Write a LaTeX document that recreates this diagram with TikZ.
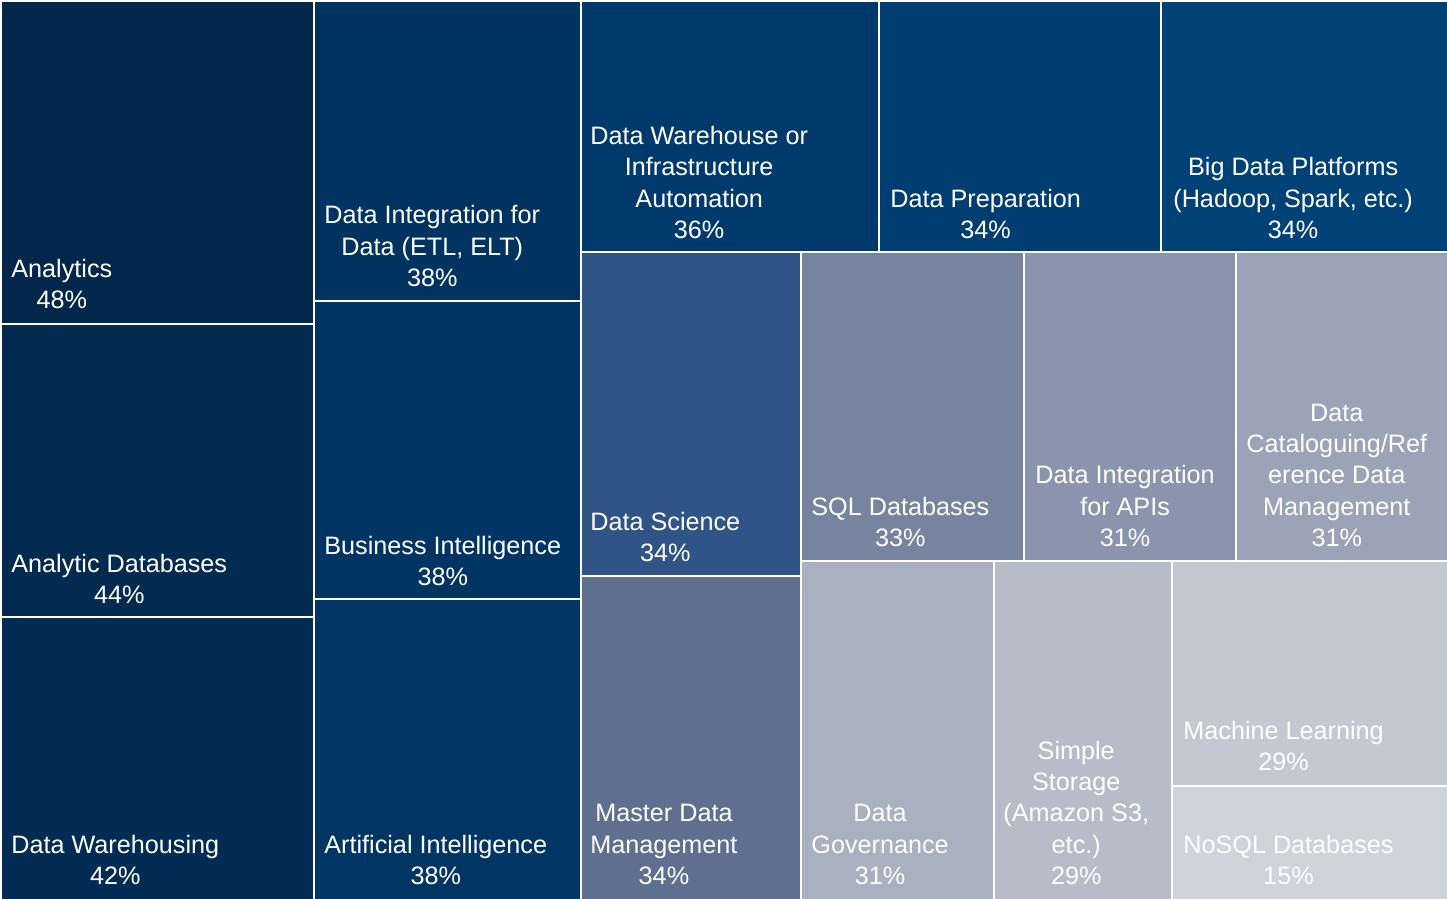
\documentclass[tikz,border=0pt]{standalone}
\usepackage{fontspec}
\setmainfont{Liberation Sans}

\definecolor{cAna}{HTML}{03274A}
\definecolor{cAnaDb}{HTML}{032A4F}
\definecolor{cDwh}{HTML}{022C54}
\definecolor{cDiEtl}{HTML}{00335F}
\definecolor{cBi}{HTML}{003462}
\definecolor{cAi}{HTML}{003564}
\definecolor{cDwia}{HTML}{003A6C}
\definecolor{cPrep}{HTML}{003D71}
\definecolor{cBig}{HTML}{004176}
\definecolor{cSci}{HTML}{305486}
\definecolor{cMdm}{HTML}{5E6F90}
\definecolor{cSql}{HTML}{77849F}
\definecolor{cDiApi}{HTML}{8A94AC}
\definecolor{cCat}{HTML}{9BA3B6}
\definecolor{cGov}{HTML}{A9B0C0}
\definecolor{cStor}{HTML}{B6BCC8}
\definecolor{cMl}{HTML}{C4C8D1}
\definecolor{cNosql}{HTML}{CFD3DA}

\begin{document}
\begin{tikzpicture}[x=0.5pt,y=-0.5pt,
  cellbox/.style={draw=white,line width=1pt},
  lbl/.style={anchor=south west,inner sep=0pt,align=center,text=white,
    font={\fontsize{12.6}{15.6}\selectfont}}]
\useasboundingbox[fill=white] (0,0) rectangle (1447,899);
\clip (0,0) rectangle (1447,899);

% first column
\path[cellbox,fill=cAna]   (1,1)   rectangle (314,324);
\path[cellbox,fill=cAnaDb] (1,324) rectangle (314,617);
\path[cellbox,fill=cDwh]   (1,617) rectangle (314,901);

% second column
\path[cellbox,fill=cDiEtl] (314,1)   rectangle (581,301);
\path[cellbox,fill=cBi]    (314,301) rectangle (581,599);
\path[cellbox,fill=cAi]    (314,599) rectangle (581,901);

% top row of the rest
\path[cellbox,fill=cDwia] (581,1)  rectangle (879,252);
\path[cellbox,fill=cPrep] (879,1)  rectangle (1161,252);
\path[cellbox,fill=cBig]  (1161,1) rectangle (1449,252);

% data science, master data
\path[cellbox,fill=cSci] (581,252) rectangle (801,576);
\path[cellbox,fill=cMdm] (581,576) rectangle (801,901);

% middle row
\path[cellbox,fill=cSql]   (801,252)    rectangle (1024,560.5);
\path[cellbox,fill=cDiApi] (1024,252)   rectangle (1235.5,560.5);
\path[cellbox,fill=cCat]   (1235.5,252) rectangle (1449,560.5);

% bottom row
\path[cellbox,fill=cGov]   (801,560.5)  rectangle (994,901);
\path[cellbox,fill=cStor]  (994,560.5)  rectangle (1172,901);
\path[cellbox,fill=cMl]    (1172,560.5) rectangle (1449,786);
\path[cellbox,fill=cNosql] (1172,786)   rectangle (1449,901);

% labels
\node[lbl] (analytics) at (11,309) {Analytics\\48\%};
\node[lbl] (anadb)     at (11,604) {Analytic Databases\\44\%};
\node[lbl] (dwh)       at (11,885) {Data Warehousing\\42\%};

\node[lbl] (dietl) at (324,287) {Data Integration for\\Data (ETL, ELT)\\38\%};
\node[lbl] (bi)    at (324,586) {Business Intelligence\\38\%};
\node[lbl] (ai)    at (324,885) {Artificial Intelligence\\38\%};

\node[lbl] (dwia) at (590,239) {Data Warehouse or\\Infrastructure\\Automation\\36\%};
\node[lbl] (prep) at (890,239) {Data Preparation\\34\%};
\node[lbl] (big)  at (1173,239) {Big Data Platforms\\(Hadoop, Spark, etc.)\\34\%};

\node[lbl] (sci) at (590,562) {Data Science\\34\%};
\node[lbl] (mdm) at (590,885) {Master Data\\Management\\34\%};

\node[lbl] (sql)   at (811,547) {SQL Databases\\33\%};
\node[lbl] (diapi) at (1035,547) {Data Integration\\for APIs\\31\%};
\node[lbl] (cat)   at (1246,547) {Data\\Cataloguing/Ref\\erence Data\\Management\\31\%};

\node[lbl] (gov)   at (811,885) {Data\\Governance\\31\%};
\node[lbl] (stor)  at (1003,885) {Simple\\Storage\\(Amazon S3,\\etc.)\\29\%};
\node[lbl] (ml)    at (1183,771) {Machine Learning\\29\%};
\node[lbl] (nosql) at (1183,885) {NoSQL Databases\\15\%};

\end{tikzpicture}
\end{document}
